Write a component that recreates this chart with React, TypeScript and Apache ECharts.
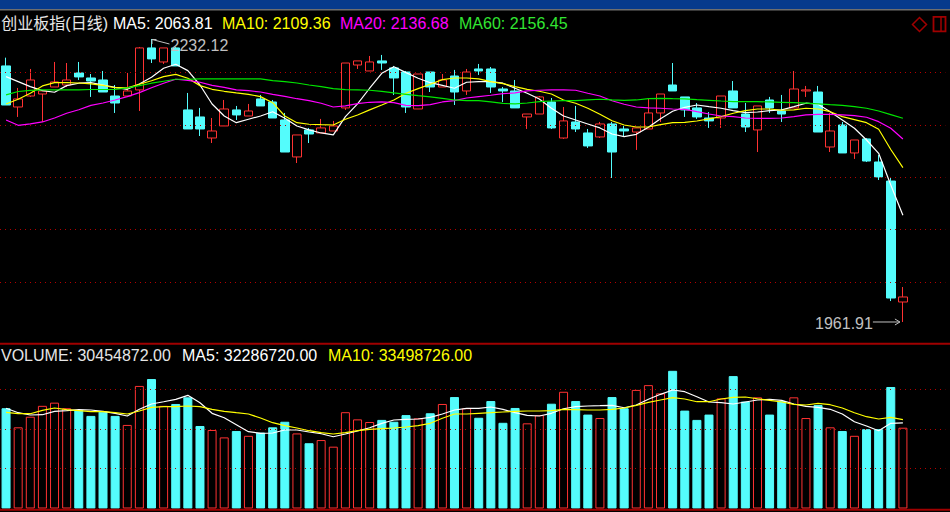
import React, { useEffect, useRef } from "react";
import * as echarts from "echarts";

// ---- price data (daily OHLC) ----
const openPrices = [
  2206.4, 2167.2, 2177.7, 2179.6, 2186.3, 2188.2, 2199.7, 2194.9, 2193.0, 2177.7,
  2177.7, 2183.5, 2223.6, 2210.2, 2223.6, 2164.4, 2157.7, 2137.6, 2149.1, 2164.4,
  2158.6, 2174.9, 2172.0, 2154.8, 2119.5, 2145.3, 2142.4, 2144.3, 2166.3, 2207.3,
  2201.6, 2211.2, 2204.5, 2200.6, 2165.3, 2200.6, 2186.3, 2196.8, 2182.5, 2203.5,
  2203.5, 2184.4, 2182.5, 2157.7, 2160.5, 2172.0, 2137.6, 2152.9, 2142.4, 2138.6,
  2151.0, 2146.2, 2143.3, 2146.2, 2161.5, 2188.2, 2176.8, 2166.3, 2156.7, 2156.7,
  2182.5, 2160.5, 2145.3, 2173.9, 2163.4, 2166.3, 2182.5, 2181.5, 2129.0, 2150.0,
  2123.3, 2136.7, 2114.7, 2096.5, 1981.0,
];
const closePrices = [
  2169.1, 2174.9, 2193.0, 2182.5, 2191.1, 2193.0, 2195.9, 2192.0, 2181.5, 2171.0,
  2182.5, 2223.6, 2213.1, 2223.6, 2206.4, 2146.2, 2146.2, 2144.3, 2165.3, 2159.6,
  2163.4, 2168.2, 2156.7, 2124.2, 2140.5, 2141.4, 2147.2, 2149.1, 2209.2, 2211.2,
  2210.2, 2209.2, 2194.9, 2167.2, 2198.7, 2186.3, 2193.0, 2181.5, 2200.6, 2201.6,
  2186.3, 2182.5, 2166.3, 2160.5, 2176.8, 2147.2, 2153.9, 2146.2, 2130.0, 2151.0,
  2124.2, 2144.3, 2147.2, 2161.5, 2179.6, 2182.5, 2164.4, 2157.7, 2153.9, 2177.7,
  2166.3, 2148.1, 2168.2, 2166.3, 2160.5, 2184.4, 2183.5, 2143.3, 2144.3, 2123.3,
  2135.7, 2115.6, 2100.4, 1984.8, 1985.8,
];
const lowPrices = [
  2169.1, 2157.7, 2176.8, 2152.9, 2186.3, 2186.3, 2193.0, 2176.8, 2181.5, 2161.5,
  2177.7, 2163.4, 2209.2, 2208.3, 2206.4, 2146.2, 2139.5, 2132.8, 2149.1, 2154.8,
  2158.6, 2168.2, 2156.7, 2124.2, 2113.7, 2132.8, 2142.4, 2144.3, 2164.4, 2203.5,
  2201.6, 2202.6, 2178.7, 2161.5, 2165.3, 2181.5, 2186.3, 2169.1, 2178.7, 2197.8,
  2180.6, 2172.0, 2166.3, 2146.2, 2160.5, 2146.2, 2136.7, 2143.3, 2128.1, 2137.6,
  2099.4, 2138.6, 2126.2, 2146.2, 2152.9, 2182.5, 2157.7, 2155.8, 2147.2, 2147.2,
  2166.3, 2143.3, 2124.2, 2161.5, 2152.9, 2166.3, 2176.8, 2143.3, 2124.2, 2123.3,
  2117.6, 2114.7, 2097.5, 1981.9, 1961.91,
];
const highPrices = [
  2214.3, 2185.4, 2203.5, 2183.5, 2210.2, 2209.2, 2210.2, 2198.7, 2201.6, 2188.2,
  2199.7, 2224.5, 2232.12, 2223.6, 2224.5, 2180.6, 2166.3, 2156.7, 2173.9, 2168.2,
  2170.1, 2178.7, 2173.9, 2161.5, 2140.5, 2147.2, 2155.8, 2153.9, 2209.2, 2211.2,
  2215.9, 2216.9, 2206.4, 2201.6, 2198.7, 2200.6, 2198.7, 2202.6, 2203.5, 2208.3,
  2205.4, 2186.3, 2193.0, 2160.5, 2177.7, 2175.8, 2167.2, 2168.2, 2146.2, 2152.9,
  2152.9, 2149.1, 2147.2, 2174.9, 2179.6, 2209.2, 2176.8, 2171.0, 2162.4, 2177.7,
  2192.0, 2171.0, 2168.2, 2176.8, 2178.7, 2201.6, 2187.3, 2187.3, 2161.5, 2152.9,
  2135.7, 2137.6, 2121.4, 2099.4, 1995.3,
];

// ---- moving averages of price ----
const ma5 = [
  2196.2, 2191.4, 2186.6, 2182.8, 2181.3, 2187.6, 2189.9, 2190.4, 2188.2, 2186.0,
  2184.1, 2189.2, 2195.6, 2204.2, 2208.0, 2201.9, 2188.2, 2170.1, 2158.6, 2152.2,
  2155.5, 2158.6, 2162.7, 2156.4, 2149.1, 2145.3, 2142.4, 2140.5, 2158.0, 2170.1,
  2185.1, 2199.4, 2205.7, 2200.0, 2194.6, 2190.4, 2187.9, 2185.1, 2190.8, 2191.4,
  2191.4, 2189.9, 2185.1, 2180.3, 2174.9, 2166.0, 2158.6, 2154.8, 2151.0, 2147.2,
  2141.4, 2138.9, 2141.1, 2147.8, 2156.0, 2163.1, 2166.9, 2169.1, 2167.5, 2166.0,
  2163.7, 2161.8, 2162.4, 2163.7, 2164.4, 2167.5, 2170.8, 2169.8, 2162.7, 2154.8,
  2146.9, 2135.7, 2123.0, 2092.7, 2063.81,
];
const ma10 = [
  2170.1, 2174.6, 2180.3, 2187.3, 2190.4, 2190.4, 2190.1, 2189.2, 2187.9, 2185.6,
  2185.4, 2188.9, 2192.3, 2196.2, 2198.4, 2194.6, 2187.6, 2184.1, 2182.2, 2180.6,
  2179.3, 2177.1, 2171.3, 2158.6, 2152.2, 2150.7, 2150.3, 2150.0, 2155.5, 2159.6,
  2164.4, 2169.1, 2173.9, 2180.3, 2184.7, 2188.9, 2193.3, 2194.9, 2194.9, 2194.0,
  2191.4, 2189.5, 2186.6, 2184.1, 2182.2, 2179.6, 2173.9, 2170.8, 2166.0, 2160.2,
  2154.1, 2150.0, 2148.1, 2148.1, 2150.3, 2152.2, 2152.6, 2153.8, 2155.8, 2158.0,
  2161.2, 2163.7, 2165.3, 2165.3, 2164.1, 2164.4, 2166.0, 2165.3, 2162.7, 2158.0,
  2155.1, 2152.2, 2145.9, 2126.6, 2109.36,
];
const ma20 = [
  2154.8, 2149.7, 2151.0, 2152.9, 2156.7, 2161.2, 2164.6, 2168.8, 2171.0, 2173.9,
  2177.1, 2180.9, 2185.6, 2189.9, 2193.7, 2192.7, 2190.8, 2187.9, 2186.0, 2183.5,
  2182.8, 2181.5, 2179.3, 2177.4, 2175.1, 2173.2, 2170.8, 2167.2, 2168.2, 2170.4,
  2171.7, 2172.0, 2171.3, 2168.8, 2168.5, 2169.4, 2172.0, 2173.2, 2175.8, 2177.1,
  2178.4, 2179.9, 2180.6, 2182.5, 2183.2, 2183.5, 2183.5, 2183.2, 2180.3, 2177.7,
  2173.2, 2169.8, 2167.2, 2166.3, 2166.0, 2165.3, 2165.0, 2162.7, 2160.5, 2158.6,
  2158.0, 2156.7, 2156.4, 2156.4, 2156.7, 2158.0, 2159.6, 2160.2, 2160.2, 2159.6,
  2158.9, 2157.4, 2153.2, 2146.9, 2136.68,
];
const ma60 = [
  2178.7, 2182.0, 2183.0, 2183.5, 2183.5, 2183.5, 2183.5, 2183.9, 2183.9, 2183.9,
  2185.4, 2187.6, 2189.9, 2191.8, 2193.7, 2193.7, 2194.0, 2194.0, 2194.0, 2194.0,
  2194.0, 2194.0, 2192.3, 2191.4, 2190.1, 2188.2, 2186.6, 2184.7, 2183.7, 2183.5,
  2183.2, 2182.2, 2180.6, 2179.3, 2178.0, 2176.8, 2175.5, 2173.9, 2173.2, 2173.2,
  2172.0, 2170.6, 2170.1, 2171.0, 2172.3, 2172.9, 2173.2, 2173.2, 2173.9, 2174.6,
  2173.9, 2173.6, 2173.9, 2175.1, 2175.5, 2175.1, 2174.9, 2174.2, 2173.6, 2172.9,
  2172.3, 2172.3, 2172.3, 2172.0, 2171.7, 2171.3, 2170.8, 2170.1, 2169.4, 2168.8,
  2167.5, 2166.0, 2163.4, 2159.9, 2156.45,
];

// ---- volume ----
const volumes = [
  37.8e6, 30.6e6, 34.6e6, 38.7e6, 39.9e6, 37.8e6, 37.1e6, 34.9e6, 36.5e6, 34.9e6,
  31.5e6, 46.2e6, 48.8e6, 38.7e6, 39.4e6, 41.9e6, 31.1e6, 29.6e6, 26.8e6, 29.2e6,
  27.4e6, 28.6e6, 30.6e6, 32.7e6, 28.3e6, 24.6e6, 25.8e6, 23.3e6, 36.3e6, 33.6e6,
  32.6e6, 33.4e6, 32.7e6, 35.2e6, 34.0e6, 35.9e6, 39.4e6, 42.0e6, 37.8e6, 34.2e6,
  40.5e6, 32.3e6, 37.9e6, 32.1e6, 35.2e6, 39.5e6, 44.0e6, 40.5e6, 35.4e6, 34.1e6,
  42.0e6, 37.8e6, 44.7e6, 46.5e6, 43.4e6, 51.9e6, 36.9e6, 33.4e6, 35.4e6, 41.5e6,
  49.9e6, 40.3e6, 41.9e6, 35.4e6, 40.5e6, 41.9e6, 34.1e6, 39.0e6, 30.6e6, 29.2e6,
  27.4e6, 29.9e6, 29.9e6, 45.8e6, 30454872,
];
const volMa5 = [
  37.77e6, 36.11e6, 35.24e6, 35.35e6, 36.63e6, 36.86e6, 37.24e6, 37.12e6, 36.63e6, 35.88e6,
  34.86e6, 37.39e6, 39.39e6, 40.25e6, 41.16e6, 42.66e6, 39.88e6, 35.88e6, 34.22e6, 31.58e6,
  28.95e6, 28.34e6, 28.46e6, 29.59e6, 29.59e6, 28.83e6, 28.19e6, 27.06e6, 28.08e6, 29.21e6,
  30.45e6, 32.11e6, 33.36e6, 33.62e6, 33.73e6, 34.37e6, 35.62e6, 37.12e6, 37.77e6, 37.77e6,
  38.26e6, 37.39e6, 36.11e6, 35.13e6, 34.86e6, 35.88e6, 37.61e6, 38.37e6, 38.63e6, 38.75e6,
  38.90e6, 37.99e6, 39.01e6, 41.16e6, 43.04e6, 44.66e6, 44.02e6, 42.14e6, 40.14e6, 39.88e6,
  39.39e6, 40.14e6, 40.89e6, 41.16e6, 40.78e6, 39.39e6, 38.52e6, 38.14e6, 37.39e6, 35.62e6,
  32.71e6, 31.09e6, 29.32e6, 32.11e6, 32286720,
];
const volMa10 = [
  36.26e6, 35.73e6, 35.73e6, 37.01e6, 37.88e6, 37.24e6, 36.86e6, 36.48e6, 36.48e6, 36.11e6,
  35.62e6, 36.75e6, 38.14e6, 38.37e6, 38.37e6, 38.63e6, 38.37e6, 37.39e6, 36.63e6, 36.11e6,
  35.62e6, 34.11e6, 32.34e6, 31.21e6, 30.34e6, 29.32e6, 28.57e6, 28.08e6, 28.57e6, 29.32e6,
  29.85e6, 30.08e6, 30.34e6, 30.72e6, 31.21e6, 32.11e6, 34.00e6, 35.62e6, 35.62e6, 35.88e6,
  36.11e6, 36.37e6, 36.63e6, 36.75e6, 36.75e6, 36.86e6, 37.39e6, 37.24e6, 37.12e6, 37.12e6,
  37.39e6, 37.88e6, 38.90e6, 40.03e6, 40.89e6, 41.76e6, 41.27e6, 40.25e6, 40.25e6, 41.27e6,
  41.91e6, 42.02e6, 41.38e6, 40.78e6, 40.14e6, 39.27e6, 39.01e6, 39.65e6, 39.12e6, 37.88e6,
  36.11e6, 34.60e6, 33.73e6, 34.37e6, 33498726,
];

// ---- axes / labels ----
const dayLabels = openPrices.map((_, i) => `D${i + 1}`);
const rightPadLabels = ["", "", ""];
const categories = [...dayLabels, ...rightPadLabels];
const priceGridLevels = [2000, 2050, 2100, 2150, 2200];
const volumeGridLevels = [15e6, 30e6, 45e6];
const titleText = "创业板指(日线)";

const RED = "#ff3232";
const CYAN = "#54fcfc";
const MA5C = "#ffffff";
const MA10C = "#ffff00";
const MA20C = "#ff00ff";
const MA60C = "#00e600";
const GRID_RED = "#b40000";
const FONT = "'Liberation Sans', Arial, 'Noto Sans CJK SC', sans-serif";

function txt(x: number, y: number, text: string, fill: string, size = 16, align = "left") {
  return {
    type: "text",
    x,
    y,
    z: 100,
    silent: true,
    style: {
      text,
      fill,
      fontSize: size,
      fontFamily: FONT,
      align,
      textAlign: align,
      verticalAlign: "middle",
      textVerticalAlign: "middle",
    },
  };
}

export default function App() {
  const ref = useRef<HTMLDivElement>(null);

  useEffect(() => {
    if (!ref.current) return;
    const chart = echarts.init(ref.current, null, { renderer: "svg" });
    const last = openPrices.length - 1;

    const candles = openPrices.map((o, i) => [o, closePrices[i], lowPrices[i], highPrices[i]]);
    const volData = volumes.map((v, i) => {
      const up = closePrices[i] >= openPrices[i];
      return {
        value: v,
        itemStyle: up
          ? { color: "#000000", borderColor: RED, borderWidth: 1 }
          : { color: CYAN, borderColor: CYAN, borderWidth: 1 },
      };
    });

    const maLine = (data: number[], color: string, x: number, y: number) => ({
      type: "line",
      xAxisIndex: x,
      yAxisIndex: y,
      data,
      symbol: "none",
      showSymbol: false,
      silent: true,
      z: 5,
      lineStyle: { color, width: 1.2 },
    });

    const gridLines = (levels: number[], x: number, y: number) => ({
      type: "line",
      xAxisIndex: x,
      yAxisIndex: y,
      data: [],
      silent: true,
      z: 1,
      markLine: {
        silent: true,
        symbol: ["none", "none"],
        label: { show: false },
        lineStyle: { color: GRID_RED, type: [1, 4], width: 1 },
        data: levels.map((v) => ({ yAxis: v })),
      },
    });

    const band = 12.15;
    const gridLeft = -2.375;
    const gridWidth = band * categories.length;

    chart.setOption({
      animation: false,
      backgroundColor: "#000000",
      grid: [
        { left: gridLeft, top: 12, width: gridWidth, height: 331 },
        { left: gridLeft, top: 345, width: gridWidth, height: 163.5 },
      ],
      xAxis: [
        { type: "category", gridIndex: 0, data: categories, show: false },
        { type: "category", gridIndex: 1, data: categories, show: false },
      ],
      yAxis: [
        { type: "value", gridIndex: 0, min: 1941.85, max: 2257.9, show: false },
        { type: "value", gridIndex: 1, min: 0, max: 61.63e6, show: false },
      ],
      series: [
        gridLines(priceGridLevels, 0, 0),
        {
          type: "candlestick",
          xAxisIndex: 0,
          yAxisIndex: 0,
          data: candles,
          barWidth: 9,
          silent: true,
          z: 3,
          itemStyle: {
            color: "#000000",
            color0: CYAN,
            borderColor: RED,
            borderColor0: CYAN,
            borderWidth: 1,
          },
        },
        maLine(ma5, MA5C, 0, 0),
        maLine(ma10, MA10C, 0, 0),
        maLine(ma20, MA20C, 0, 0),
        maLine(ma60, MA60C, 0, 0),
        gridLines(volumeGridLevels, 1, 1),
        {
          type: "bar",
          xAxisIndex: 1,
          yAxisIndex: 1,
          data: volData,
          barWidth: 9,
          silent: true,
          z: 3,
        },
        maLine(volMa5, MA5C, 1, 1),
        maLine(volMa10, MA10C, 1, 1),
      ],
    });

    // annotation positions from the chart's own scales
    let hiIdx = 0;
    let loIdx = 0;
    highPrices.forEach((h, i) => {
      if (h > highPrices[hiIdx]) hiIdx = i;
    });
    lowPrices.forEach((l, i) => {
      if (l < lowPrices[loIdx]) loIdx = i;
    });
    const [hx, hy] = chart.convertToPixel({ gridIndex: 0 }, [hiIdx, highPrices[hiIdx]]) as number[];
    const [lx, ly] = chart.convertToPixel({ gridIndex: 0 }, [loIdx, lowPrices[loIdx]]) as number[];
    const annoColor = "#c0c0c0";

    const graphic: any[] = [
      { type: "rect", shape: { x: 0, y: 0, width: 950, height: 9 }, style: { fill: "#063a8c" }, z: 100, silent: true },
      { type: "rect", shape: { x: 0, y: 9, width: 950, height: 1.5 }, style: { fill: "#6e6e6e" }, z: 100, silent: true },
      { type: "rect", shape: { x: 0, y: 342.7, width: 950, height: 2 }, style: { fill: "#a00000" }, z: 100, silent: true },
      { type: "rect", shape: { x: 0, y: 508.7, width: 950, height: 2 }, style: { fill: "#a00000" }, z: 100, silent: true },
      // top-right icons
      {
        type: "polygon",
        z: 100,
        silent: true,
        shape: { points: [[919.5, 17.5], [926.5, 24.5], [919.5, 31.5], [912.5, 24.5]] },
        style: { fill: "none", stroke: "#a00000", lineWidth: 1.5 },
      },
      {
        type: "rect",
        z: 100,
        silent: true,
        shape: { x: 933.5, y: 16.8, width: 12, height: 14.5 },
        style: { fill: "none", stroke: "#a00000", lineWidth: 1.8 },
      },
      {
        type: "line",
        z: 100,
        silent: true,
        shape: { x1: 941, y1: 16.8, x2: 941, y2: 31.3 },
        style: { stroke: "#a00000", lineWidth: 1.5 },
      },
      // header texts
      txt(108, 23, titleText, "#e6e6e6", 16, "right"),
      txt(113, 23, `MA5: ${ma5[last].toFixed(2)}`, MA5C),
      txt(222, 23, `MA10: ${ma10[last].toFixed(2)}`, MA10C),
      txt(340, 23, `MA20: ${ma20[last].toFixed(2)}`, MA20C),
      txt(459, 23, `MA60: ${ma60[last].toFixed(2)}`, "#32e632"),
      txt(1, 355.5, `VOLUME: ${volumes[last].toFixed(2)}`, "#e6e6e6"),
      txt(182, 355.5, `MA5: ${volMa5[last].toFixed(2)}`, MA5C),
      txt(328, 355.5, `MA10: ${volMa10[last].toFixed(2)}`, MA10C),
      // high annotation
      {
        type: "line",
        z: 100,
        silent: true,
        shape: { x1: hx + 0.5, y1: hy + 0.5, x2: hx + 18, y2: hy + 5 },
        style: { stroke: annoColor, lineWidth: 1 },
      },
      {
        type: "polyline",
        z: 100,
        silent: true,
        shape: { points: [[hx + 5, hy + 0.5], [hx + 0.5, hy + 0.5], [hx + 0.5, hy + 5]] },
        style: { stroke: annoColor, fill: "none", lineWidth: 1 },
      },
      txt(hx + 19, hy + 6.5, highPrices[hiIdx].toFixed(2), annoColor),
      // low annotation
      {
        type: "line",
        z: 100,
        silent: true,
        shape: { x1: lx - 30, y1: ly, x2: lx - 3, y2: ly },
        style: { stroke: annoColor, lineWidth: 1 },
      },
      {
        type: "polyline",
        z: 100,
        silent: true,
        shape: { points: [[lx - 8, ly - 3], [lx - 3, ly], [lx - 8, ly + 3]] },
        style: { stroke: annoColor, fill: "none", lineWidth: 1 },
      },
      txt(lx - 30, ly + 1.5, lowPrices[loIdx].toFixed(2), annoColor, 16, "right"),
    ];

    chart.setOption({ graphic });

    return () => {
      chart.dispose();
    };
  }, []);

  return (
    <div
      ref={ref}
      style={{ position: "fixed", left: 0, top: 0, width: 950, height: 512, background: "#000" }}
    />
  );
}
